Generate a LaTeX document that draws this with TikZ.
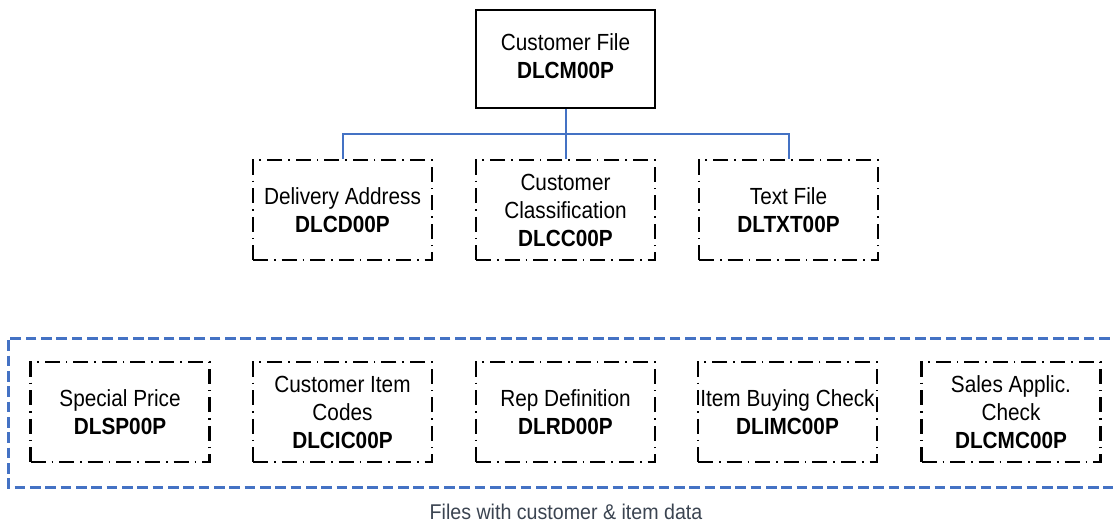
\documentclass[tikz,border=0pt]{standalone}
\usepackage{fontspec}
\setmainfont{Liberation Sans}
\newfontfamily\boxfont[FakeStretch=0.89]{Liberation Sans}
\newfontfamily\capfont[FakeStretch=0.92]{Liberation Sans}
\definecolor{linkblue}{HTML}{4472C4}
\definecolor{capgrey}{HTML}{3B4451}
\tikzset{
  x=0.75pt, y=-0.75pt,
  filebox/.style={draw=black, line width=2.2pt,
    dash pattern=on 11.25pt off 4.5pt on 1.2pt off 4.5pt,
    minimum width=134.25pt, minimum height=75pt, inner sep=0pt,
    align=center, font=\boxfont\fontsize{17.5}{21}\selectfont},
  mainbox/.style={draw=black, line width=1.5pt,
    minimum width=134.25pt, minimum height=73.5pt, inner sep=0pt,
    align=center, font=\boxfont\fontsize{17.5}{21}\selectfont},
  link/.style={draw=linkblue, line width=1.5pt},
  group/.style={draw=linkblue, line width=2.25pt, dash pattern=on 8pt off 3.5pt},
  caption/.style={text=capgrey, font=\capfont\fontsize{16}{19}\selectfont, inner sep=0pt}
}
\begin{document}
\begin{tikzpicture}
\clip (0,0) rectangle (1113,529);
% top
\node[mainbox] (top) at (565.5,59) {\raisebox{-4pt}{\begin{tabular}{@{}c@{}}Customer File\\\textbf{DLCM00P}\end{tabular}}};
% middle row
\node[filebox] (d1) at (342.5,210) {Delivery Address\\\textbf{DLCD00P}};
\node[filebox] (d2) at (565.5,210) {Customer\\Classification\\\textbf{DLCC00P}};
\node[filebox] (d3) at (788.5,210) {Text File\\\textbf{DLTXT00P}};
% connectors
\coordinate (j) at (565.5,134);
\draw[link] (top.south) -- (j);
\draw[link] (d1.north) |- (j) -| (d3.north);
\draw[link] (j) -- (d2.north);
% group
\coordinate (g1) at (1125,338);
\coordinate (g2) at (8,338);
\coordinate (g3) at (8,487);
\coordinate (g4) at (1125,487);
\draw[group] (g1) -- (g2) -- (g3) -- (g4);
% bottom row
\node[filebox] (b1) at (120,412) {Special Price\\\textbf{DLSP00P}};
\node[filebox] (b2) at (342.5,412) {Customer Item\\Codes\\\textbf{DLCIC00P}};
\node[filebox] (b3) at (565.5,412) {Rep Definition\\\textbf{DLRD00P}};
\node[filebox] (b4) at (787.5,412) {Item Buying Check\\\textbf{DLIMC00P}};
\node[filebox] (b5) at (1011,412) {Sales Applic.\\Check\\\textbf{DLCMC00P}};
\node[caption] (cap) at (566,512) {Files with customer \& item data};
\end{tikzpicture}
\end{document}
